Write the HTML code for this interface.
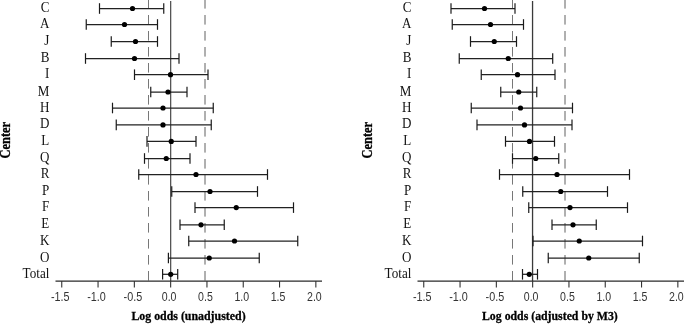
<!DOCTYPE html>
<html><head><meta charset="utf-8"><style>
html,body{margin:0;padding:0;background:#fff;}
svg{display:block;will-change:transform;}
.lab{font-family:"Liberation Serif",serif;font-size:13.6px;fill:#111;}
.tick{font-family:"Liberation Sans",sans-serif;font-size:12.6px;fill:#333;}
.xl{font-family:"Liberation Serif",serif;font-weight:bold;font-size:13.3px;fill:#000;stroke:#000;stroke-width:0.3px;}
</style></head><body>
<svg width="685" height="324" viewBox="0 0 685 324">
<line x1="170.65" y1="1" x2="170.65" y2="281" stroke="#555" stroke-width="1.3"/>
<line x1="148.5" y1="0" x2="148.5" y2="281" stroke="#777" stroke-width="1" stroke-dasharray="9.6,6.4" stroke-dashoffset="1"/>
<line x1="205" y1="0" x2="205" y2="281" stroke="#606060" stroke-width="1" stroke-dasharray="9.6,6.4" stroke-dashoffset="1"/>
<line x1="99.5" y1="8.5" x2="163.75" y2="8.5" stroke="#222" stroke-width="1.25"/>
<line x1="99.5" y1="3.2" x2="99.5" y2="13.8" stroke="#1a1a1a" stroke-width="1.2"/>
<line x1="163.75" y1="3.2" x2="163.75" y2="13.8" stroke="#1a1a1a" stroke-width="1.2"/>
<circle cx="132.5" cy="8.5" r="2.6" fill="#000"/>
<text transform="translate(49.35,12.00) scale(0.96,1.06)" text-anchor="end" class="lab">C</text>
<line x1="86.25" y1="24.5" x2="157.5" y2="24.5" stroke="#222" stroke-width="1.25"/>
<line x1="86.25" y1="19.2" x2="86.25" y2="29.8" stroke="#1a1a1a" stroke-width="1.2"/>
<line x1="157.5" y1="19.2" x2="157.5" y2="29.8" stroke="#1a1a1a" stroke-width="1.2"/>
<circle cx="124.5" cy="24.5" r="2.6" fill="#000"/>
<text transform="translate(49.35,28.00) scale(0.96,1.06)" text-anchor="end" class="lab">A</text>
<line x1="111.25" y1="41.5" x2="157.5" y2="41.5" stroke="#222" stroke-width="1.25"/>
<line x1="111.25" y1="36.2" x2="111.25" y2="46.8" stroke="#1a1a1a" stroke-width="1.2"/>
<line x1="157.5" y1="36.2" x2="157.5" y2="46.8" stroke="#1a1a1a" stroke-width="1.2"/>
<circle cx="135.5" cy="41.5" r="2.6" fill="#000"/>
<text transform="translate(49.35,45.00) scale(0.96,1.06)" text-anchor="end" class="lab">J</text>
<line x1="85.5" y1="58.5" x2="179" y2="58.5" stroke="#222" stroke-width="1.25"/>
<line x1="85.5" y1="53.2" x2="85.5" y2="63.8" stroke="#1a1a1a" stroke-width="1.2"/>
<line x1="179" y1="53.2" x2="179" y2="63.8" stroke="#1a1a1a" stroke-width="1.2"/>
<circle cx="134.5" cy="58.5" r="2.6" fill="#000"/>
<text transform="translate(49.35,62.00) scale(0.96,1.06)" text-anchor="end" class="lab">B</text>
<line x1="134.5" y1="74.7" x2="208" y2="74.7" stroke="#222" stroke-width="1.25"/>
<line x1="134.5" y1="69.4" x2="134.5" y2="80.0" stroke="#1a1a1a" stroke-width="1.2"/>
<line x1="208" y1="69.4" x2="208" y2="80.0" stroke="#1a1a1a" stroke-width="1.2"/>
<circle cx="170.5" cy="74.7" r="2.6" fill="#000"/>
<text transform="translate(49.35,78.20) scale(0.96,1.06)" text-anchor="end" class="lab">I</text>
<line x1="150.75" y1="92.0" x2="187" y2="92.0" stroke="#222" stroke-width="1.25"/>
<line x1="150.75" y1="86.7" x2="150.75" y2="97.3" stroke="#1a1a1a" stroke-width="1.2"/>
<line x1="187" y1="86.7" x2="187" y2="97.3" stroke="#1a1a1a" stroke-width="1.2"/>
<circle cx="168" cy="92.0" r="2.6" fill="#000"/>
<text transform="translate(49.35,95.50) scale(0.96,1.06)" text-anchor="end" class="lab">M</text>
<line x1="112.5" y1="108.0" x2="213.25" y2="108.0" stroke="#222" stroke-width="1.25"/>
<line x1="112.5" y1="102.7" x2="112.5" y2="113.3" stroke="#1a1a1a" stroke-width="1.2"/>
<line x1="213.25" y1="102.7" x2="213.25" y2="113.3" stroke="#1a1a1a" stroke-width="1.2"/>
<circle cx="163" cy="108.0" r="2.6" fill="#000"/>
<text transform="translate(49.35,111.50) scale(0.96,1.06)" text-anchor="end" class="lab">H</text>
<line x1="116.25" y1="124.9" x2="211.25" y2="124.9" stroke="#222" stroke-width="1.25"/>
<line x1="116.25" y1="119.60000000000001" x2="116.25" y2="130.20000000000002" stroke="#1a1a1a" stroke-width="1.2"/>
<line x1="211.25" y1="119.60000000000001" x2="211.25" y2="130.20000000000002" stroke="#1a1a1a" stroke-width="1.2"/>
<circle cx="163" cy="124.9" r="2.6" fill="#000"/>
<text transform="translate(49.35,128.40) scale(0.96,1.06)" text-anchor="end" class="lab">D</text>
<line x1="147" y1="141.4" x2="196" y2="141.4" stroke="#222" stroke-width="1.25"/>
<line x1="147" y1="136.1" x2="147" y2="146.70000000000002" stroke="#1a1a1a" stroke-width="1.2"/>
<line x1="196" y1="136.1" x2="196" y2="146.70000000000002" stroke="#1a1a1a" stroke-width="1.2"/>
<circle cx="171.25" cy="141.4" r="2.6" fill="#000"/>
<text transform="translate(49.35,144.90) scale(0.96,1.06)" text-anchor="end" class="lab">L</text>
<line x1="144.5" y1="158.5" x2="190" y2="158.5" stroke="#222" stroke-width="1.25"/>
<line x1="144.5" y1="153.2" x2="144.5" y2="163.8" stroke="#1a1a1a" stroke-width="1.2"/>
<line x1="190" y1="153.2" x2="190" y2="163.8" stroke="#1a1a1a" stroke-width="1.2"/>
<circle cx="166.25" cy="158.5" r="2.6" fill="#000"/>
<text transform="translate(49.35,162.00) scale(0.96,1.06)" text-anchor="end" class="lab">Q</text>
<line x1="138.75" y1="174.5" x2="267.5" y2="174.5" stroke="#222" stroke-width="1.25"/>
<line x1="138.75" y1="169.2" x2="138.75" y2="179.8" stroke="#1a1a1a" stroke-width="1.2"/>
<line x1="267.5" y1="169.2" x2="267.5" y2="179.8" stroke="#1a1a1a" stroke-width="1.2"/>
<circle cx="196" cy="174.5" r="2.6" fill="#000"/>
<text transform="translate(49.35,178.00) scale(0.96,1.06)" text-anchor="end" class="lab">R</text>
<line x1="171.75" y1="191.5" x2="257.5" y2="191.5" stroke="#222" stroke-width="1.25"/>
<line x1="171.75" y1="186.2" x2="171.75" y2="196.8" stroke="#1a1a1a" stroke-width="1.2"/>
<line x1="257.5" y1="186.2" x2="257.5" y2="196.8" stroke="#1a1a1a" stroke-width="1.2"/>
<circle cx="210" cy="191.5" r="2.6" fill="#000"/>
<text transform="translate(49.35,195.00) scale(0.96,1.06)" text-anchor="end" class="lab">P</text>
<line x1="195" y1="207.6" x2="293.5" y2="207.6" stroke="#222" stroke-width="1.25"/>
<line x1="195" y1="202.29999999999998" x2="195" y2="212.9" stroke="#1a1a1a" stroke-width="1.2"/>
<line x1="293.5" y1="202.29999999999998" x2="293.5" y2="212.9" stroke="#1a1a1a" stroke-width="1.2"/>
<circle cx="236.25" cy="207.6" r="2.6" fill="#000"/>
<text transform="translate(49.35,211.10) scale(0.96,1.06)" text-anchor="end" class="lab">F</text>
<line x1="180" y1="224.8" x2="224.25" y2="224.8" stroke="#222" stroke-width="1.25"/>
<line x1="180" y1="219.5" x2="180" y2="230.10000000000002" stroke="#1a1a1a" stroke-width="1.2"/>
<line x1="224.25" y1="219.5" x2="224.25" y2="230.10000000000002" stroke="#1a1a1a" stroke-width="1.2"/>
<circle cx="201" cy="224.8" r="2.6" fill="#000"/>
<text transform="translate(49.35,228.30) scale(0.96,1.06)" text-anchor="end" class="lab">E</text>
<line x1="188.75" y1="241.0" x2="297.75" y2="241.0" stroke="#222" stroke-width="1.25"/>
<line x1="188.75" y1="235.7" x2="188.75" y2="246.3" stroke="#1a1a1a" stroke-width="1.2"/>
<line x1="297.75" y1="235.7" x2="297.75" y2="246.3" stroke="#1a1a1a" stroke-width="1.2"/>
<circle cx="234.5" cy="241.0" r="2.6" fill="#000"/>
<text transform="translate(49.35,244.50) scale(0.96,1.06)" text-anchor="end" class="lab">K</text>
<line x1="168.4" y1="258.0" x2="259.25" y2="258.0" stroke="#222" stroke-width="1.25"/>
<line x1="168.4" y1="252.7" x2="168.4" y2="263.3" stroke="#1a1a1a" stroke-width="1.2"/>
<line x1="259.25" y1="252.7" x2="259.25" y2="263.3" stroke="#1a1a1a" stroke-width="1.2"/>
<circle cx="209.25" cy="258.0" r="2.6" fill="#000"/>
<text transform="translate(49.35,261.50) scale(0.96,1.06)" text-anchor="end" class="lab">O</text>
<line x1="162.6" y1="274.3" x2="177.7" y2="274.3" stroke="#222" stroke-width="1.25"/>
<line x1="162.6" y1="269.0" x2="162.6" y2="279.6" stroke="#1a1a1a" stroke-width="1.2"/>
<line x1="177.7" y1="269.0" x2="177.7" y2="279.6" stroke="#1a1a1a" stroke-width="1.2"/>
<circle cx="170.7" cy="274.3" r="2.6" fill="#000"/>
<text transform="translate(49.35,277.80) scale(0.96,1.06)" text-anchor="end" class="lab" textLength="27.9" lengthAdjust="spacingAndGlyphs">Total</text>
<line x1="55.5" y1="281.1" x2="322" y2="281.1" stroke="#2a2a2a" stroke-width="1.25"/>
<line x1="61.75" y1="281" x2="61.75" y2="287.4" stroke="#333" stroke-width="1.1"/>
<text x="60.25" y="301" text-anchor="middle" class="tick" textLength="18.6" lengthAdjust="spacingAndGlyphs">-1.5</text>
<line x1="98.05" y1="281" x2="98.05" y2="287.4" stroke="#333" stroke-width="1.1"/>
<text x="96.55" y="301" text-anchor="middle" class="tick" textLength="18.6" lengthAdjust="spacingAndGlyphs">-1.0</text>
<line x1="134.35" y1="281" x2="134.35" y2="287.4" stroke="#333" stroke-width="1.1"/>
<text x="132.85" y="301" text-anchor="middle" class="tick" textLength="18.6" lengthAdjust="spacingAndGlyphs">-0.5</text>
<line x1="170.65" y1="281" x2="170.65" y2="287.4" stroke="#333" stroke-width="1.1"/>
<text x="169.15" y="301" text-anchor="middle" class="tick" textLength="14.7" lengthAdjust="spacingAndGlyphs">0.0</text>
<line x1="206.95" y1="281" x2="206.95" y2="287.4" stroke="#333" stroke-width="1.1"/>
<text x="205.45" y="301" text-anchor="middle" class="tick" textLength="14.7" lengthAdjust="spacingAndGlyphs">0.5</text>
<line x1="243.25" y1="281" x2="243.25" y2="287.4" stroke="#333" stroke-width="1.1"/>
<text x="241.75" y="301" text-anchor="middle" class="tick" textLength="14.7" lengthAdjust="spacingAndGlyphs">1.0</text>
<line x1="279.55" y1="281" x2="279.55" y2="287.4" stroke="#333" stroke-width="1.1"/>
<text x="278.05" y="301" text-anchor="middle" class="tick" textLength="14.7" lengthAdjust="spacingAndGlyphs">1.5</text>
<line x1="315.85" y1="281" x2="315.85" y2="287.4" stroke="#333" stroke-width="1.1"/>
<text x="314.35" y="301" text-anchor="middle" class="tick" textLength="14.7" lengthAdjust="spacingAndGlyphs">2.0</text>
<text x="131.4" y="319.8" class="xl" textLength="114.19999999999999" lengthAdjust="spacingAndGlyphs">Log odds (unadjusted)</text>
<text transform="translate(9.9,140.2) rotate(-90)" text-anchor="middle" class="xl" style="font-size:14px" textLength="36.6" lengthAdjust="spacingAndGlyphs">Center</text>
<line x1="532.55" y1="1" x2="532.55" y2="281" stroke="#3a3a3a" stroke-width="1.3"/>
<line x1="512.5" y1="0" x2="512.5" y2="281" stroke="#777" stroke-width="1" stroke-dasharray="9.6,6.4" stroke-dashoffset="1"/>
<line x1="565" y1="0" x2="565" y2="281" stroke="#606060" stroke-width="1" stroke-dasharray="9.6,6.4" stroke-dashoffset="1"/>
<line x1="451" y1="8.5" x2="515" y2="8.5" stroke="#222" stroke-width="1.25"/>
<line x1="451" y1="3.2" x2="451" y2="13.8" stroke="#1a1a1a" stroke-width="1.2"/>
<line x1="515" y1="3.2" x2="515" y2="13.8" stroke="#1a1a1a" stroke-width="1.2"/>
<circle cx="484.5" cy="8.5" r="2.6" fill="#000"/>
<text transform="translate(411.35,12.00) scale(0.96,1.06)" text-anchor="end" class="lab">C</text>
<line x1="452.25" y1="24.5" x2="523.5" y2="24.5" stroke="#222" stroke-width="1.25"/>
<line x1="452.25" y1="19.2" x2="452.25" y2="29.8" stroke="#1a1a1a" stroke-width="1.2"/>
<line x1="523.5" y1="19.2" x2="523.5" y2="29.8" stroke="#1a1a1a" stroke-width="1.2"/>
<circle cx="490.5" cy="24.5" r="2.6" fill="#000"/>
<text transform="translate(411.35,28.00) scale(0.96,1.06)" text-anchor="end" class="lab">A</text>
<line x1="470.5" y1="41.5" x2="516.5" y2="41.5" stroke="#222" stroke-width="1.25"/>
<line x1="470.5" y1="36.2" x2="470.5" y2="46.8" stroke="#1a1a1a" stroke-width="1.2"/>
<line x1="516.5" y1="36.2" x2="516.5" y2="46.8" stroke="#1a1a1a" stroke-width="1.2"/>
<circle cx="494.25" cy="41.5" r="2.6" fill="#000"/>
<text transform="translate(411.35,45.00) scale(0.96,1.06)" text-anchor="end" class="lab">J</text>
<line x1="459.25" y1="58.5" x2="552.7" y2="58.5" stroke="#222" stroke-width="1.25"/>
<line x1="459.25" y1="53.2" x2="459.25" y2="63.8" stroke="#1a1a1a" stroke-width="1.2"/>
<line x1="552.7" y1="53.2" x2="552.7" y2="63.8" stroke="#1a1a1a" stroke-width="1.2"/>
<circle cx="508.25" cy="58.5" r="2.6" fill="#000"/>
<text transform="translate(411.35,62.00) scale(0.96,1.06)" text-anchor="end" class="lab">B</text>
<line x1="481.25" y1="74.7" x2="555" y2="74.7" stroke="#222" stroke-width="1.25"/>
<line x1="481.25" y1="69.4" x2="481.25" y2="80.0" stroke="#1a1a1a" stroke-width="1.2"/>
<line x1="555" y1="69.4" x2="555" y2="80.0" stroke="#1a1a1a" stroke-width="1.2"/>
<circle cx="517.5" cy="74.7" r="2.6" fill="#000"/>
<text transform="translate(411.35,78.20) scale(0.96,1.06)" text-anchor="end" class="lab">I</text>
<line x1="500.75" y1="92.0" x2="536.75" y2="92.0" stroke="#222" stroke-width="1.25"/>
<line x1="500.75" y1="86.7" x2="500.75" y2="97.3" stroke="#1a1a1a" stroke-width="1.2"/>
<line x1="536.75" y1="86.7" x2="536.75" y2="97.3" stroke="#1a1a1a" stroke-width="1.2"/>
<circle cx="518.75" cy="92.0" r="2.6" fill="#000"/>
<text transform="translate(411.35,95.50) scale(0.96,1.06)" text-anchor="end" class="lab">M</text>
<line x1="471.25" y1="108.0" x2="572.5" y2="108.0" stroke="#222" stroke-width="1.25"/>
<line x1="471.25" y1="102.7" x2="471.25" y2="113.3" stroke="#1a1a1a" stroke-width="1.2"/>
<line x1="572.5" y1="102.7" x2="572.5" y2="113.3" stroke="#1a1a1a" stroke-width="1.2"/>
<circle cx="520.5" cy="108.0" r="2.6" fill="#000"/>
<text transform="translate(411.35,111.50) scale(0.96,1.06)" text-anchor="end" class="lab">H</text>
<line x1="477" y1="124.9" x2="572" y2="124.9" stroke="#222" stroke-width="1.25"/>
<line x1="477" y1="119.60000000000001" x2="477" y2="130.20000000000002" stroke="#1a1a1a" stroke-width="1.2"/>
<line x1="572" y1="119.60000000000001" x2="572" y2="130.20000000000002" stroke="#1a1a1a" stroke-width="1.2"/>
<circle cx="524.5" cy="124.9" r="2.6" fill="#000"/>
<text transform="translate(411.35,128.40) scale(0.96,1.06)" text-anchor="end" class="lab">D</text>
<line x1="505.5" y1="141.4" x2="554.5" y2="141.4" stroke="#222" stroke-width="1.25"/>
<line x1="505.5" y1="136.1" x2="505.5" y2="146.70000000000002" stroke="#1a1a1a" stroke-width="1.2"/>
<line x1="554.5" y1="136.1" x2="554.5" y2="146.70000000000002" stroke="#1a1a1a" stroke-width="1.2"/>
<circle cx="529.5" cy="141.4" r="2.6" fill="#000"/>
<text transform="translate(411.35,144.90) scale(0.96,1.06)" text-anchor="end" class="lab">L</text>
<line x1="512.5" y1="158.5" x2="558.75" y2="158.5" stroke="#222" stroke-width="1.25"/>
<line x1="512.5" y1="153.2" x2="512.5" y2="163.8" stroke="#1a1a1a" stroke-width="1.2"/>
<line x1="558.75" y1="153.2" x2="558.75" y2="163.8" stroke="#1a1a1a" stroke-width="1.2"/>
<circle cx="535.75" cy="158.5" r="2.6" fill="#000"/>
<text transform="translate(411.35,162.00) scale(0.96,1.06)" text-anchor="end" class="lab">Q</text>
<line x1="499.5" y1="174.5" x2="629.5" y2="174.5" stroke="#222" stroke-width="1.25"/>
<line x1="499.5" y1="169.2" x2="499.5" y2="179.8" stroke="#1a1a1a" stroke-width="1.2"/>
<line x1="629.5" y1="169.2" x2="629.5" y2="179.8" stroke="#1a1a1a" stroke-width="1.2"/>
<circle cx="557" cy="174.5" r="2.6" fill="#000"/>
<text transform="translate(411.35,178.00) scale(0.96,1.06)" text-anchor="end" class="lab">R</text>
<line x1="522.75" y1="191.5" x2="607.5" y2="191.5" stroke="#222" stroke-width="1.25"/>
<line x1="522.75" y1="186.2" x2="522.75" y2="196.8" stroke="#1a1a1a" stroke-width="1.2"/>
<line x1="607.5" y1="186.2" x2="607.5" y2="196.8" stroke="#1a1a1a" stroke-width="1.2"/>
<circle cx="560.75" cy="191.5" r="2.6" fill="#000"/>
<text transform="translate(411.35,195.00) scale(0.96,1.06)" text-anchor="end" class="lab">P</text>
<line x1="528.75" y1="207.6" x2="627.5" y2="207.6" stroke="#222" stroke-width="1.25"/>
<line x1="528.75" y1="202.29999999999998" x2="528.75" y2="212.9" stroke="#1a1a1a" stroke-width="1.2"/>
<line x1="627.5" y1="202.29999999999998" x2="627.5" y2="212.9" stroke="#1a1a1a" stroke-width="1.2"/>
<circle cx="570" cy="207.6" r="2.6" fill="#000"/>
<text transform="translate(411.35,211.10) scale(0.96,1.06)" text-anchor="end" class="lab">F</text>
<line x1="552" y1="224.8" x2="596.25" y2="224.8" stroke="#222" stroke-width="1.25"/>
<line x1="552" y1="219.5" x2="552" y2="230.10000000000002" stroke="#1a1a1a" stroke-width="1.2"/>
<line x1="596.25" y1="219.5" x2="596.25" y2="230.10000000000002" stroke="#1a1a1a" stroke-width="1.2"/>
<circle cx="573" cy="224.8" r="2.6" fill="#000"/>
<text transform="translate(411.35,228.30) scale(0.96,1.06)" text-anchor="end" class="lab">E</text>
<line x1="533" y1="241.0" x2="642.5" y2="241.0" stroke="#222" stroke-width="1.25"/>
<line x1="533" y1="235.7" x2="533" y2="246.3" stroke="#1a1a1a" stroke-width="1.2"/>
<line x1="642.5" y1="235.7" x2="642.5" y2="246.3" stroke="#1a1a1a" stroke-width="1.2"/>
<circle cx="579.25" cy="241.0" r="2.6" fill="#000"/>
<text transform="translate(411.35,244.50) scale(0.96,1.06)" text-anchor="end" class="lab">K</text>
<line x1="548.25" y1="258.0" x2="639.25" y2="258.0" stroke="#222" stroke-width="1.25"/>
<line x1="548.25" y1="252.7" x2="548.25" y2="263.3" stroke="#1a1a1a" stroke-width="1.2"/>
<line x1="639.25" y1="252.7" x2="639.25" y2="263.3" stroke="#1a1a1a" stroke-width="1.2"/>
<circle cx="588.75" cy="258.0" r="2.6" fill="#000"/>
<text transform="translate(411.35,261.50) scale(0.96,1.06)" text-anchor="end" class="lab">O</text>
<line x1="522.5" y1="274.3" x2="537.5" y2="274.3" stroke="#222" stroke-width="1.25"/>
<line x1="522.5" y1="269.0" x2="522.5" y2="279.6" stroke="#1a1a1a" stroke-width="1.2"/>
<line x1="537.5" y1="269.0" x2="537.5" y2="279.6" stroke="#1a1a1a" stroke-width="1.2"/>
<circle cx="529.25" cy="274.3" r="2.6" fill="#000"/>
<text transform="translate(411.35,277.80) scale(0.96,1.06)" text-anchor="end" class="lab" textLength="27.9" lengthAdjust="spacingAndGlyphs">Total</text>
<line x1="417.5" y1="281.1" x2="684" y2="281.1" stroke="#2a2a2a" stroke-width="1.25"/>
<line x1="423.75" y1="281" x2="423.75" y2="287.4" stroke="#333" stroke-width="1.1"/>
<text x="422.25" y="301" text-anchor="middle" class="tick" textLength="18.6" lengthAdjust="spacingAndGlyphs">-1.5</text>
<line x1="460.05" y1="281" x2="460.05" y2="287.4" stroke="#333" stroke-width="1.1"/>
<text x="458.55" y="301" text-anchor="middle" class="tick" textLength="18.6" lengthAdjust="spacingAndGlyphs">-1.0</text>
<line x1="496.35" y1="281" x2="496.35" y2="287.4" stroke="#333" stroke-width="1.1"/>
<text x="494.85" y="301" text-anchor="middle" class="tick" textLength="18.6" lengthAdjust="spacingAndGlyphs">-0.5</text>
<line x1="532.65" y1="281" x2="532.65" y2="287.4" stroke="#333" stroke-width="1.1"/>
<text x="531.15" y="301" text-anchor="middle" class="tick" textLength="14.7" lengthAdjust="spacingAndGlyphs">0.0</text>
<line x1="568.95" y1="281" x2="568.95" y2="287.4" stroke="#333" stroke-width="1.1"/>
<text x="567.45" y="301" text-anchor="middle" class="tick" textLength="14.7" lengthAdjust="spacingAndGlyphs">0.5</text>
<line x1="605.25" y1="281" x2="605.25" y2="287.4" stroke="#333" stroke-width="1.1"/>
<text x="603.75" y="301" text-anchor="middle" class="tick" textLength="14.7" lengthAdjust="spacingAndGlyphs">1.0</text>
<line x1="641.55" y1="281" x2="641.55" y2="287.4" stroke="#333" stroke-width="1.1"/>
<text x="640.05" y="301" text-anchor="middle" class="tick" textLength="14.7" lengthAdjust="spacingAndGlyphs">1.5</text>
<line x1="677.85" y1="281" x2="677.85" y2="287.4" stroke="#333" stroke-width="1.1"/>
<text x="676.35" y="301" text-anchor="middle" class="tick" textLength="14.7" lengthAdjust="spacingAndGlyphs">2.0</text>
<text x="482" y="319.8" class="xl" textLength="135.79999999999995" lengthAdjust="spacingAndGlyphs">Log odds (adjusted by M3)</text>
<text transform="translate(371.9,140.2) rotate(-90)" text-anchor="middle" class="xl" style="font-size:14px" textLength="36.6" lengthAdjust="spacingAndGlyphs">Center</text>
</svg>
</body></html>
